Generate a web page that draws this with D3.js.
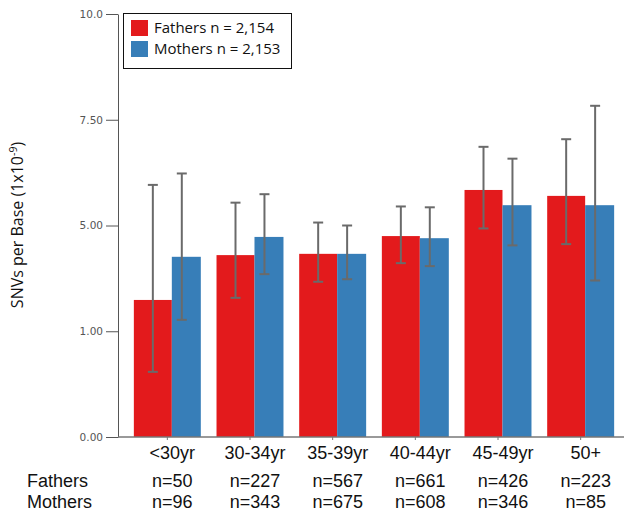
<!DOCTYPE html>
<html lang="en">
<head>
    <meta charset="UTF-8">
    <title>SNVs per Base by parental age</title>
    <script src="https://d3js.org/d3.v7.min.js"></script>
    <style>
        body { margin: 0; background: #fff; }
    </style>
</head>
<body>
    <script>
        // data
        var ageGroups = ["<30yr", "30-34yr", "35-39yr", "40-44yr", "45-49yr", "50+"];
        var fathers   = [3.24, 4.30, 4.33, 4.75, 5.84, 5.70];
        var fathersLo = [1.54, 3.29, 3.67, 4.11, 4.93, 4.56];
        var fathersHi = [5.96, 5.54, 5.07, 5.45, 6.86, 7.04];
        var mothers   = [4.26, 4.73, 4.33, 4.70, 5.48, 5.48];
        var mothersLo = [2.77, 3.85, 3.73, 4.04, 4.53, 3.70];
        var mothersHi = [6.23, 5.74, 5.00, 5.43, 6.58, 7.83];
        var fathersN  = ["n=50", "n=227", "n=567", "n=661", "n=426", "n=223"];
        var mothersN  = ["n=96", "n=343", "n=675", "n=608", "n=346", "n=85"];
        var yTicks      = [0, 2.5, 5, 7.5, 10];
        var yTickLabels = ["0.00", "1.00", "5.00", "7.50", "10.0"];
        var legendLabels = ["Fathers n = 2,154", "Mothers n = 2,153"];

        var w = 626, h = 516;
        var red = "#e31a1c", blue = "#377eb8";

        var svg = d3.select("body")
                    .append("svg")
                    .attr("width", w)
                    .attr("height", h);

        var y = d3.scaleLinear().domain([0, 10]).range([437, 14]);

        var x = d3.scaleBand()
                  .domain(ageGroups)
                  .range([126, 622])
                  .paddingInner(0.19)
                  .paddingOuter(0.095);

        // position inside one group: red bar takes the left part, blue the rest
        var inner = d3.scaleLinear().domain([0, 1]).range([0, x.bandwidth()]);
        var split = 0.567;

        var rows = ageGroups.map(function(g, i) {
            return {
                g: g,
                f: fathers[i], fLo: fathersLo[i], fHi: fathersHi[i],
                m: mothers[i], mLo: mothersLo[i], mHi: mothersHi[i],
                fn: fathersN[i], mn: mothersN[i]
            };
        });

        // y axis
        var yAxis = svg.append("g")
                       .attr("transform", "translate(118,0)")
                       .call(d3.axisLeft(y)
                               .tickValues(yTicks)
                               .tickFormat(function(d, i) { return yTickLabels[i]; })
                               .tickSize(12)
                               .tickSizeOuter(0)
                               .tickPadding(3));
        yAxis.select(".domain").attr("stroke", "#555");
        yAxis.selectAll(".tick line").attr("stroke", "#555");
        yAxis.selectAll(".tick text")
             .attr("fill", "#555")
             .style("font-family", "DejaVu Sans, Verdana, sans-serif")
             .style("font-size", "10.5px");

        svg.append("text")
           .attr("transform", "translate(23,225) rotate(-90)")
           .attr("text-anchor", "middle")
           .style("font-family", "Open Sans, sans-serif")
           .style("font-size", "16px")
           .attr("fill", "#111")
           .text("SNVs per Base (1x10")
           .append("tspan")
           .attr("dy", -6)
           .style("font-size", "10.5px")
           .text("-9")
           .select(function() { return this.parentNode; })
           .append("tspan")
           .attr("dy", 6)
           .text(")");

        // bars
        var groups = svg.selectAll("g.grp")
                        .data(rows)
                        .join("g")
                        .attr("class", "grp")
                        .attr("transform", (d) => "translate(" + x(d.g) + ",0)");

        groups.append("rect")
              .attr("x", inner(0))
              .attr("y", (d) => y(d.f))
              .attr("width", inner(split) - inner(0))
              .attr("height", (d) => y(0) - y(d.f))
              .attr("fill", red);

        groups.append("rect")
              .attr("x", inner(split))
              .attr("y", (d) => y(d.m))
              .attr("width", inner(1) - inner(split))
              .attr("height", (d) => y(0) - y(d.m))
              .attr("fill", blue);

        // error bars
        function errBar(sel, cx, lo, hi) {
            var c = "#6a6a6a";
            sel.append("line")
               .attr("x1", cx).attr("x2", cx)
               .attr("y1", (d) => y(d[lo])).attr("y2", (d) => y(d[hi]))
               .attr("stroke", c).attr("stroke-width", 2);
            [lo, hi].forEach(function(k) {
                sel.append("line")
                   .attr("x1", cx - 5).attr("x2", cx + 5)
                   .attr("y1", (d) => y(d[k])).attr("y2", (d) => y(d[k]))
                   .attr("stroke", c).attr("stroke-width", 2);
            });
        }
        errBar(groups, inner(split / 2), "fLo", "fHi");
        errBar(groups, inner(0.716), "mLo", "mHi");

        // x axis line
        svg.append("line")
           .attr("x1", 118).attr("x2", 624)
           .attr("y1", y(0)).attr("y2", y(0))
           .attr("stroke", "#777").attr("stroke-width", 1.5);
        svg.selectAll("line.xtick")
           .data(ageGroups)
           .join("line")
           .attr("class", "xtick")
           .attr("x1", (d) => x(d) + x.bandwidth() / 2)
           .attr("x2", (d) => x(d) + x.bandwidth() / 2)
           .attr("y1", y(0)).attr("y2", y(0) + 3)
           .attr("stroke", "#777");

        // category labels and counts under the axis
        var labelFont = "Liberation Sans, Arial, sans-serif";
        function bottomRow(vals, yy) {
            svg.append("g")
               .selectAll("text")
               .data(vals)
               .join("text")
               .attr("x", (d, i) => x(ageGroups[i]) + x.bandwidth() / 2 + 5)
               .attr("y", yy)
               .attr("text-anchor", "middle")
               .style("font-family", labelFont)
               .style("font-size", "18px")
               .attr("fill", "#111")
               .text((d) => d);
        }
        bottomRow(ageGroups, 459);
        bottomRow(fathersN, 487);
        bottomRow(mothersN, 508);

        svg.append("text").attr("x", 27).attr("y", 487)
           .style("font-family", labelFont).style("font-size", "18px")
           .attr("fill", "#111").text("Fathers");
        svg.append("text").attr("x", 27).attr("y", 508)
           .style("font-family", labelFont).style("font-size", "18px")
           .attr("fill", "#111").text("Mothers");

        // legend
        var legend = svg.append("g");
        legend.append("rect")
              .attr("x", 123.5).attr("y", 13.5)
              .attr("width", 168).attr("height", 55)
              .attr("fill", "#fff").attr("stroke", "#111");
        var items = legend.selectAll("g.item")
                          .data(legendLabels)
                          .join("g")
                          .attr("class", "item")
                          .attr("transform", (d, i) => "translate(131," + (20 + i * 21) + ")");
        items.append("rect")
             .attr("width", 17).attr("height", 16)
             .attr("fill", (d, i) => [red, blue][i]);
        items.append("text")
             .attr("x", 23).attr("y", 13)
             .style("font-family", "Open Sans, sans-serif")
             .style("font-size", "15px")
             .attr("fill", "#111")
             .text((d) => d);
    </script>
</body>
</html>
